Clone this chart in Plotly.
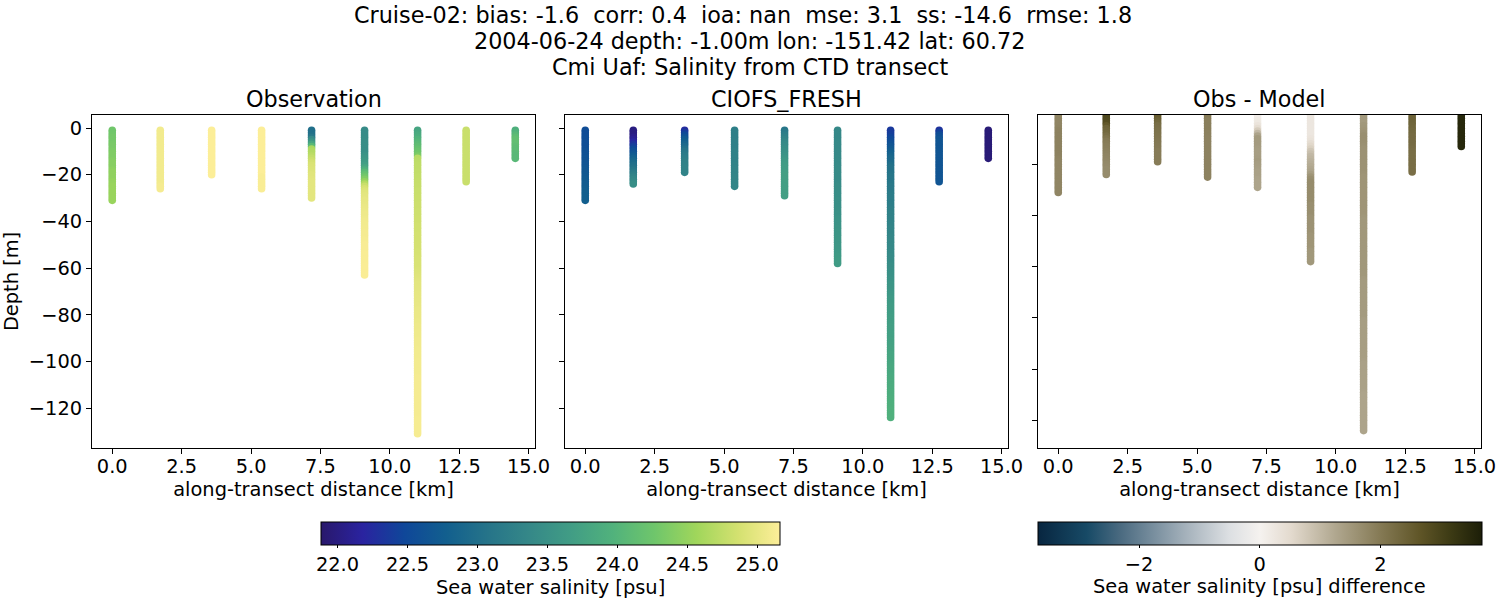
import plotly.graph_objects as go

# along-transect position of each cast [km]
transect_km = [0.0, 1.73, 3.58, 5.38, 7.18, 9.09, 11.0, 12.75, 14.52]

# CTD bins [m], every cast uses the first len(values) of these
depth_bins = [
    -1, -2, -3, -4, -5, -6, -7, -8, -9, -10, -11, -12, -13, -14, -15, -16, -17, -18, -19, -20,
    -21, -22, -23, -24, -25, -26, -27, -28, -29, -30, -31, -32, -33, -34, -35, -36, -37, -38, -39, -40,
    -41, -42, -43, -44, -45, -46, -47, -48, -49, -50, -51, -52, -53, -54, -55, -56, -57, -58, -59, -60,
    -61, -62, -63, -64, -65, -66, -67, -68, -69, -70, -71, -72, -73, -74, -75, -76, -77, -78, -79, -80,
    -81, -82, -83, -84, -85, -86, -87, -88, -89, -90, -91, -92, -93, -94, -95, -96, -97, -98, -99, -100,
    -101, -102, -103, -104, -105, -106, -107, -108, -109, -110, -111, -112, -113, -114, -115, -116, -117, -118,
    -119, -120, -121, -122, -123, -124, -125, -126, -127, -128, -129, -130, -131,
]

# observed salinity [psu] per cast
obs_salt = [
    [24.27, 24.27, 24.28, 24.3, 24.3, 24.3, 24.32, 24.33, 24.33, 24.35,
     24.37, 24.37, 24.37, 24.4, 24.42, 24.42, 24.42, 24.45, 24.47, 24.47,
     24.47, 24.47, 24.5, 24.5, 24.52, 24.52, 24.52, 24.52, 24.52, 24.52,
     24.52],
    [25.08, 25.08, 25.08, 25.08, 25.08, 25.08, 25.08, 25.08, 25.08, 25.08,
     25.08, 25.08, 25.08, 25.08, 25.08, 25.08, 25.08, 25.08, 25.08, 25.08,
     25.08, 25.08, 25.08, 25.08, 25.1, 25.1],
    [25.15, 25.15, 25.15, 25.15, 25.15, 25.15, 25.15, 25.15, 25.15, 25.15,
     25.15, 25.15, 25.15, 25.15, 25.15, 25.15, 25.15, 25.15, 25.15, 25.15],
    [25.15, 25.15, 25.15, 25.15, 25.15, 25.15, 25.15, 25.15, 25.15, 25.15,
     25.15, 25.15, 25.15, 25.15, 25.15, 25.15, 25.15, 25.15, 25.15, 25.15,
     25.13, 25.13, 25.13, 25.13, 25.13, 25.13],
    [23.0, 23.0, 23.02, 23.12, 23.4, 23.55, 23.78, 24.05, 24.62, 24.66,
     24.68, 24.72, 24.77, 24.82, 24.87, 24.9, 24.91, 24.92, 24.93, 24.95,
     24.95, 24.96, 24.97, 24.97, 24.97, 24.97, 24.97, 24.97, 24.97, 24.97],
    [23.42, 23.42, 23.42, 23.43, 23.43, 23.44, 23.45, 23.45, 23.45, 23.45,
     23.47, 23.52, 23.56, 23.6, 23.62, 23.68, 23.78, 23.92, 24.07, 24.17,
     24.27, 24.37, 24.5, 24.67, 24.8, 24.88, 24.92, 24.95, 24.97, 24.98,
     25.0, 25.0, 25.01, 25.02, 25.03, 25.04, 25.05, 25.05, 25.06, 25.07,
     25.08, 25.08, 25.09, 25.09, 25.1, 25.1, 25.1, 25.11, 25.11, 25.12,
     25.12, 25.12, 25.12, 25.13, 25.13, 25.13, 25.13, 25.13, 25.14, 25.14,
     25.14, 25.14, 25.14],
    [23.77, 23.8, 23.85, 23.9, 23.97, 24.02, 24.07, 24.12, 24.17, 24.22,
     24.28, 24.35, 24.7, 24.72, 24.73, 24.74, 24.75, 24.75, 24.76, 24.76,
     24.77, 24.77, 24.78, 24.78, 24.79, 24.79, 24.8, 24.8, 24.8, 24.81,
     24.81, 24.81, 24.82, 24.82, 24.82, 24.83, 24.83, 24.83, 24.84, 24.84,
     24.84, 24.85, 24.85, 24.85, 24.85, 24.86, 24.86, 24.86, 24.86, 24.87,
     24.87, 24.87, 24.88, 24.88, 24.88, 24.89, 24.89, 24.9, 24.9, 24.9,
     24.91, 24.92, 24.93, 24.94, 24.95, 24.96, 24.97, 24.97, 24.98, 24.98,
     24.99, 24.99, 25.0, 25.0, 25.0, 25.01, 25.01, 25.02, 25.02, 25.03,
     25.03, 25.03, 25.04, 25.04, 25.05, 25.05, 25.05, 25.06, 25.06, 25.06,
     25.07, 25.07, 25.07, 25.07, 25.08, 25.08, 25.08, 25.08, 25.08, 25.09,
     25.09, 25.09, 25.09, 25.09, 25.09, 25.09, 25.1, 25.1, 25.1, 25.1,
     25.1, 25.1, 25.1, 25.1, 25.1, 25.1, 25.1, 25.1, 25.1, 25.1,
     25.1, 25.1, 25.1, 25.1, 25.11, 25.11, 25.11, 25.11, 25.11, 25.11,
     25.11],
    [24.8, 24.8, 24.8, 24.8, 24.8, 24.8, 24.8, 24.8, 24.8, 24.8,
     24.8, 24.8, 24.8, 24.8, 24.8, 24.8, 24.8, 24.8, 24.8, 24.8,
     24.8, 24.8, 24.8],
    [23.92, 23.96, 24.03, 24.1, 24.14, 24.15, 24.15, 24.12, 24.1, 24.1,
     24.06, 24.05, 24.05],
]

# model salinity [psu] per cast
model_salt = [
    [22.55, 22.55, 22.55, 22.56, 22.56, 22.57, 22.57, 22.58, 22.58, 22.6,
     22.6, 22.61, 22.62, 22.63, 22.64, 22.65, 22.66, 22.67, 22.68, 22.69,
     22.7, 22.71, 22.72, 22.73, 22.74, 22.75, 22.76, 22.77, 22.77, 22.78,
     22.78],
    [22.0, 22.0, 22.0, 22.05, 22.1, 22.2, 22.3, 22.4, 22.5, 22.58,
     22.65, 22.72, 22.8, 22.87, 22.94, 23.0, 23.05, 23.12, 23.18, 23.24,
     23.3, 23.35, 23.4, 23.45],
    [22.25, 22.38, 22.5, 22.6, 22.7, 22.78, 22.85, 22.92, 23.0, 23.07,
     23.13, 23.17, 23.2, 23.23, 23.27, 23.28, 23.3, 23.3, 23.3],
    [23.23, 23.23, 23.23, 23.23, 23.23, 23.25, 23.25, 23.25, 23.25, 23.28,
     23.28, 23.28, 23.28, 23.28, 23.28, 23.3, 23.3, 23.31, 23.31, 23.31,
     23.33, 23.33, 23.33, 23.33, 23.33],
    [23.1, 23.15, 23.2, 23.25, 23.3, 23.35, 23.4, 23.42, 23.45, 23.47,
     23.5, 23.52, 23.55, 23.6, 23.63, 23.65, 23.67, 23.67, 23.68, 23.7,
     23.7, 23.7, 23.7, 23.7, 23.7, 23.7, 23.7, 23.7, 23.7],
    [23.37, 23.37, 23.37, 23.37, 23.37, 23.38, 23.39, 23.39, 23.39, 23.39,
     23.39, 23.39, 23.4, 23.4, 23.4, 23.4, 23.42, 23.42, 23.42, 23.42,
     23.42, 23.42, 23.42, 23.42, 23.44, 23.44, 23.44, 23.44, 23.45, 23.45,
     23.47, 23.47, 23.47, 23.47, 23.49, 23.49, 23.5, 23.5, 23.52, 23.52,
     23.52, 23.52, 23.54, 23.54, 23.55, 23.55, 23.57, 23.57, 23.57, 23.57,
     23.59, 23.59, 23.6, 23.6, 23.62, 23.62, 23.64, 23.64],
    [22.35, 22.38, 22.4, 22.45, 22.5, 22.55, 22.6, 22.65, 22.7, 22.75,
     22.8, 22.85, 22.9, 22.92, 22.95, 23.0, 23.05, 23.05, 23.05, 23.07,
     23.1, 23.1, 23.1, 23.12, 23.15, 23.15, 23.15, 23.17, 23.2, 23.2,
     23.2, 23.2, 23.22, 23.22, 23.25, 23.25, 23.27, 23.27, 23.28, 23.28,
     23.3, 23.3, 23.32, 23.32, 23.33, 23.33, 23.35, 23.35, 23.37, 23.37,
     23.38, 23.38, 23.4, 23.4, 23.42, 23.42, 23.43, 23.43, 23.46, 23.46,
     23.47, 23.48, 23.5, 23.5, 23.52, 23.52, 23.55, 23.55, 23.56, 23.57,
     23.59, 23.6, 23.61, 23.62, 23.63, 23.64, 23.65, 23.65, 23.66, 23.67,
     23.68, 23.68, 23.69, 23.69, 23.7, 23.7, 23.7, 23.71, 23.71, 23.71,
     23.72, 23.73, 23.74, 23.74, 23.76, 23.76, 23.78, 23.78, 23.79, 23.79,
     23.8, 23.81, 23.82, 23.82, 23.83, 23.84, 23.85, 23.86, 23.87, 23.87,
     23.88, 23.88, 23.9, 23.9, 23.9, 23.91, 23.92, 23.92, 23.93, 23.93,
     23.94, 23.94, 23.94, 23.94],
    [22.3, 22.42, 22.55, 22.6, 22.65, 22.65, 22.65, 22.65, 22.65, 22.65,
     22.65, 22.65, 22.65, 22.65, 22.65, 22.65, 22.65, 22.65, 22.65, 22.65,
     22.65, 22.65, 22.65],
    [21.95, 21.95, 21.95, 21.95, 21.95, 21.95, 21.95, 21.95, 21.95, 21.95,
     21.95, 21.95, 21.95],
]

# obs - model difference [psu] per cast, same bins as the model
diff_salt = [
    [1.8, 1.8, 1.8, 1.8, 1.8, 1.82, 1.85, 1.85, 1.85, 1.85,
     1.85, 1.85, 1.85, 1.85, 1.85, 1.85, 1.85, 1.82, 1.8, 1.8,
     1.8, 1.8, 1.8, 1.8, 1.8, 1.8, 1.8, 1.8, 1.8, 1.8,
     1.8],
    [2.9, 2.9, 2.85, 2.8, 2.6, 2.4, 2.35, 2.3, 2.2, 2.1,
     2.0, 1.95, 1.92, 1.9, 1.87, 1.85, 1.82, 1.8, 1.77, 1.75,
     1.72, 1.7, 1.7, 1.7],
    [2.55, 2.5, 2.4, 2.3, 2.2, 2.18, 2.15, 2.12, 2.1, 2.07,
     2.05, 2.02, 2.0, 1.98, 1.95, 1.95, 1.95, 1.95, 1.95],
    [1.95, 1.95, 1.9, 1.9, 1.9, 1.9, 1.9, 1.87, 1.87, 1.85,
     1.85, 1.85, 1.85, 1.85, 1.85, 1.85, 1.85, 1.85, 1.85, 1.85,
     1.85, 1.85, 1.85, 1.85, 1.85],
    [0.1, 0.1, 0.15, 0.2, 0.3, 0.45, 0.7, 1.0, 1.3, 1.45,
     1.45, 1.45, 1.45, 1.42, 1.4, 1.4, 1.4, 1.42, 1.45, 1.42,
     1.4, 1.38, 1.35, 1.35, 1.35, 1.32, 1.3, 1.3, 1.3],
    [0.25, 0.25, 0.25, 0.25, 0.25, 0.25, 0.25, 0.25, 0.25, 0.3,
     0.35, 0.45, 0.55, 0.65, 0.8, 0.9, 1.0, 1.05, 1.1, 1.15,
     1.2, 1.25, 1.3, 1.4, 1.55, 1.65, 1.7, 1.7, 1.7, 1.7,
     1.7, 1.7, 1.7, 1.7, 1.7, 1.65, 1.65, 1.65, 1.65, 1.65,
     1.6, 1.6, 1.6, 1.6, 1.6, 1.6, 1.6, 1.55, 1.55, 1.55,
     1.55, 1.55, 1.55, 1.5, 1.5, 1.5, 1.5, 1.5],
    [1.45, 1.45, 1.45, 1.45, 1.5, 1.52, 1.55, 1.6, 1.65, 1.65,
     1.65, 1.65, 1.62, 1.6, 1.6, 1.6, 1.6, 1.6, 1.6, 1.6,
     1.6, 1.6, 1.6, 1.58, 1.55, 1.55, 1.55, 1.55, 1.55, 1.55,
     1.55, 1.55, 1.55, 1.55, 1.55, 1.55, 1.55, 1.55, 1.55, 1.55,
     1.52, 1.5, 1.5, 1.5, 1.5, 1.5, 1.5, 1.5, 1.5, 1.5,
     1.5, 1.5, 1.5, 1.5, 1.5, 1.5, 1.5, 1.5, 1.5, 1.5,
     1.5, 1.5, 1.5, 1.5, 1.47, 1.45, 1.45, 1.45, 1.45, 1.45,
     1.45, 1.45, 1.45, 1.45, 1.45, 1.45, 1.45, 1.45, 1.45, 1.45,
     1.42, 1.4, 1.4, 1.4, 1.4, 1.4, 1.4, 1.4, 1.4, 1.4,
     1.4, 1.4, 1.4, 1.4, 1.4, 1.4, 1.38, 1.35, 1.35, 1.35,
     1.35, 1.35, 1.35, 1.35, 1.35, 1.35, 1.35, 1.35, 1.33, 1.3,
     1.3, 1.3, 1.3, 1.3, 1.3, 1.3, 1.3, 1.3, 1.3, 1.3,
     1.3, 1.3, 1.3, 1.3],
    [2.4, 2.4, 2.4, 2.38, 2.35, 2.33, 2.3, 2.28, 2.25, 2.25,
     2.25, 2.25, 2.25, 2.22, 2.2, 2.2, 2.2, 2.2, 2.2, 2.2,
     2.2, 2.2, 2.2],
    [3.5, 3.5, 3.5, 3.5, 3.5, 3.5, 3.5, 3.5, 3.5, 3.5,
     3.5, 3.5, 3.5],
]

title_lines = [
    "Cruise-02: bias: -1.6  corr: 0.4  ioa: nan  mse: 3.1  ss: -14.6  rmse: 1.8",
    "2004-06-24 depth: -1.00m lon: -151.42 lat: 60.72",
    "Cmi Uaf: Salinity from CTD transect",
]
panel_titles = ["Observation", "CIOFS_FRESH", "Obs - Model"]
x_ticks = [0, 2.5, 5, 7.5, 10, 12.5, 15]
salt_ticks = [22, 22.5, 23, 23.5, 24, 24.5, 25]
diff_ticks = [-2, 0, 2]
diff_labels = ["\u22122", "0", "2"]

# cmocean "diff" is not a plotly name
diff_scale = [
    [0.0, "#082640"], [0.11, "#174a66"], [0.185, "#4a6a80"], [0.33, "#a3b0ba"], [0.43, "#dcdfe2"], [0.5, "#f5f2ef"],
    [0.57, "#e3dace"], [0.67, "#b0a78f"], [0.77, "#857a55"], [0.86, "#5f5527"], [0.93, "#3c3a14"], [1.0, "#1c1e08"],
]

FONT = "DejaVu Sans"
SIZE = 19.4
W, H = 1500, 600


def cast_xy(casts):
    xs, ys, vals = [], [], []
    for km, cast in zip(transect_km, casts):
        xs += [km] * len(cast)
        ys += depth_bins[:len(cast)]
        vals += cast
    return xs, ys, vals


fig = go.Figure()
panels = [("x", "y", obs_salt, "coloraxis"), ("x2", "y2", model_salt, "coloraxis"), ("x3", "y3", diff_salt, "coloraxis2")]
for xa, ya, casts, cax in panels:
    xs, ys, vals = cast_xy(casts)
    fig.add_trace(go.Scatter(
        x=xs, y=ys, xaxis=xa, yaxis=ya, mode="markers",
        marker=dict(size=7.6, color=vals, coloraxis=cax, line=dict(width=0)),
        showlegend=False,
    ))

axis_style = dict(
    showline=True, linecolor="black", linewidth=1, mirror=True, showgrid=False, zeroline=False,
    ticks="outside", ticklen=5, tickwidth=1, tickcolor="black", tickfont=dict(family=FONT, size=SIZE, color="black"),
)
xr = [-0.73, 15.23]
lefts = [92, 565, 1038]
for i, left in enumerate(lefts):
    suffix = "" if i == 0 else str(i + 1)
    fig.layout["xaxis" + suffix] = dict(
        axis_style, domain=[left / W, (left + 443) / W], range=xr, tickmode="array", tickvals=x_ticks,
        ticktext=["%.1f" % t for t in x_ticks], anchor="y" + suffix, ticklabelstandoff=-4,
        title=dict(text="along-transect distance [km]", font=dict(family=FONT, size=SIZE, color="black"), standoff=5),
    )
    fig.layout["yaxis" + suffix] = dict(
        axis_style, domain=[1 - 448 / H, 1 - 115 / H], anchor="x" + suffix, tick0=0, dtick=20,
        range=[-130.8, -0.74] if i == 2 else [-137.1, 5.57], showticklabels=i == 0,
    )
fig.layout.yaxis.title = dict(text="Depth [m]", font=dict(family=FONT, size=SIZE, color="black"), standoff=12)


def label(text, px, py, size):
    return dict(text=text, x=px / W, y=1 - py / H, xref="paper", yref="paper", showarrow=False,
                xanchor="center", yanchor="middle", font=dict(family=FONT, size=size, color="black"))


annotations = []
for line, px, py in zip(title_lines, [742.5, 749.5, 749.5], [15, 41, 67]):
    annotations.append(label(line, px, py, 22.3))
for name, left in zip(panel_titles, lefts):
    annotations.append(label(name, left + 221.5, 99, 22.3))
# colorbar titles sit too low when left to the colorbar itself
annotations.append(label("Sea water salinity [psu]", 550, 587, SIZE))
annotations.append(label("Sea water salinity [psu] difference", 1259, 586, SIZE))


def bar(ticks, labels, left, right):
    return dict(
        orientation="h", xref="container", yref="container", x=(left + right) / 2 / W, xanchor="center",
        y=1 - 522 / H, yanchor="top", lenmode="pixels", len=right - left, thicknessmode="pixels", thickness=23,
        xpad=0, ypad=0, outlinecolor="black", outlinewidth=1, ticks="outside", ticklen=3, tickwidth=1,
        tickcolor="black", tickmode="array", tickvals=ticks, ticktext=labels,
        tickfont=dict(family=FONT, size=SIZE, color="black"),
    )


fig.update_layout(
    width=W, height=H, margin=dict(l=0, r=0, t=0, b=0, autoexpand=False), paper_bgcolor="white", plot_bgcolor="white",
    annotations=annotations,
    coloraxis=dict(colorscale="haline", cmin=21.88, cmax=25.16,
                   colorbar=bar(salt_ticks, ["%.1f" % t for t in salt_ticks], 321, 779.5)),
    coloraxis2=dict(colorscale=diff_scale, cmin=-3.68, cmax=3.68,
                    colorbar=bar(diff_ticks, diff_labels, 1038, 1481.5)),
)
# the page body has a default margin that would shift the whole figure
fig.write_html("out.html", config=dict(displayModeBar=False), post_script="document.body.style.margin='0';")
